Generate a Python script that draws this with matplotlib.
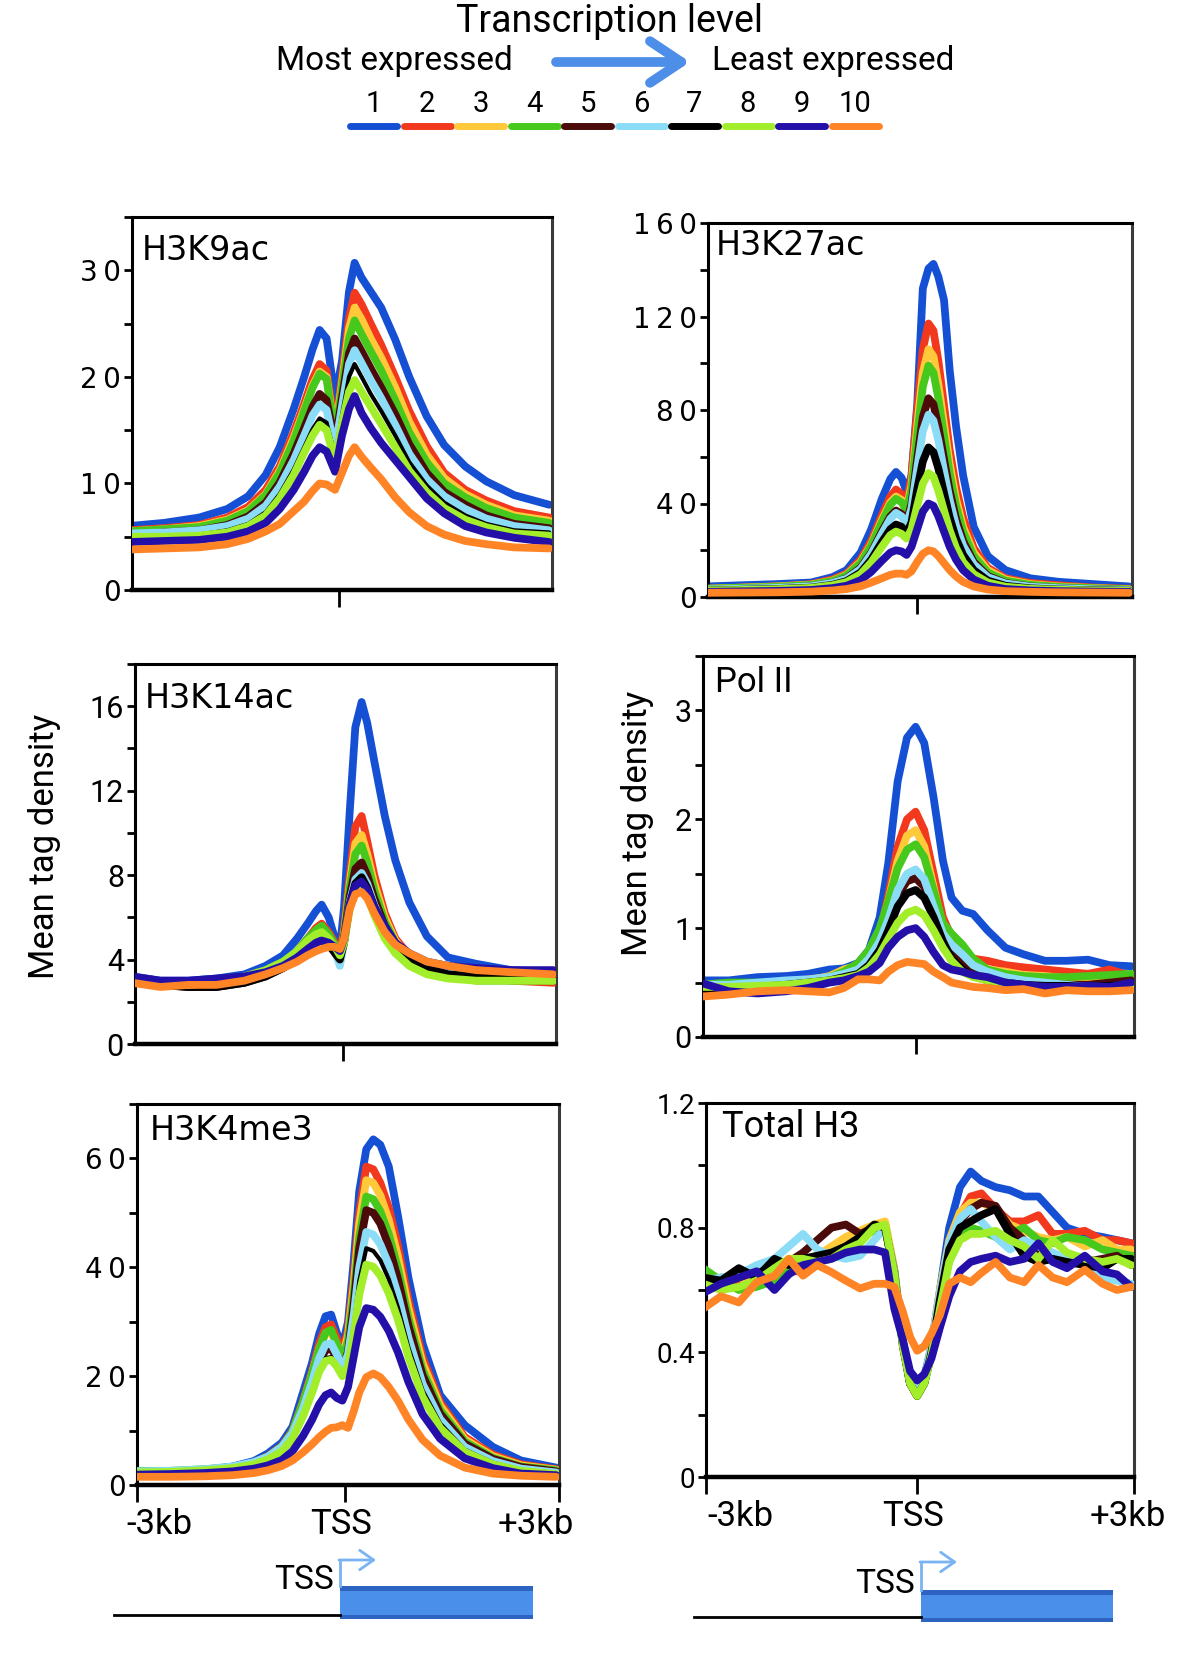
import matplotlib
matplotlib.use("Agg")
import matplotlib.pyplot as plt
from matplotlib import font_manager
from matplotlib.patches import Rectangle
from matplotlib.ticker import MultipleLocator, FuncFormatter

# ---------------- data ----------------
groups = ["1", "2", "3", "4", "5", "6", "7", "8", "9", "10"]
colors = ["#1550d4", "#f2391e", "#ffc93a", "#46c81c", "#4a0b0a",
          "#8bdcf6", "#000000", "#a3ee2a", "#2410a8", "#ff8426"]

# H3K9ac
k9_x = [-3000, -2500, -2000, -1600, -1300, -1050, -850, -650, -500, -380, -280, -180, -60,
        40, 140, 220, 320, 450, 600, 800, 1000, 1250, 1500, 1800, 2100, 2500, 3000]
k9_y = [
    [6.0, 6.3, 6.8, 7.6, 8.8, 10.8, 13.4, 17.0, 20.0, 22.6, 24.4, 23.6, 18.0, 21.5, 28.0, 30.7, 29.3, 28.0, 26.5, 23.5, 20.0, 16.3, 13.6, 11.6, 10.2, 8.9, 8.0],
    [5.6, 5.8, 6.1, 6.8, 7.8, 9.4, 11.6, 14.8, 17.5, 19.8, 21.2, 20.6, 15.0, 20.0, 25.5, 27.9, 26.8, 25.0, 23.0, 20.0, 16.8, 13.5, 11.0, 9.4, 8.4, 7.4, 6.8],
    [5.5, 5.7, 6.0, 6.6, 7.5, 9.0, 11.2, 14.3, 17.0, 19.2, 20.5, 20.0, 14.6, 19.4, 24.5, 26.5, 25.4, 23.6, 21.8, 19.0, 15.8, 12.7, 10.5, 9.0, 8.0, 7.0, 6.5],
    [5.5, 5.7, 5.9, 6.5, 7.4, 8.9, 11.0, 14.0, 16.8, 19.0, 20.3, 19.8, 14.3, 19.0, 23.6, 25.3, 24.0, 22.4, 20.6, 17.8, 14.8, 12.0, 10.0, 8.7, 7.7, 6.8, 6.3],
    [5.2, 5.4, 5.6, 6.1, 6.9, 8.2, 10.1, 12.8, 15.2, 17.2, 18.4, 17.8, 13.8, 18.0, 22.2, 23.6, 22.4, 20.8, 19.0, 16.5, 13.7, 11.0, 9.2, 8.0, 7.0, 6.2, 5.8],
    [5.3, 5.4, 5.6, 6.0, 6.7, 7.9, 9.7, 12.2, 14.5, 16.4, 17.4, 16.9, 13.2, 17.2, 21.2, 22.5, 21.3, 19.7, 18.0, 15.5, 12.8, 10.4, 8.8, 7.6, 6.7, 6.0, 5.6],
    [4.9, 5.0, 5.2, 5.6, 6.2, 7.3, 9.0, 11.3, 13.4, 15.1, 16.1, 15.7, 12.6, 16.4, 20.0, 21.2, 20.0, 18.4, 16.8, 14.5, 12.0, 9.8, 8.2, 7.0, 6.2, 5.6, 5.4],
    [5.0, 5.0, 5.1, 5.4, 6.0, 7.0, 8.6, 10.8, 12.9, 14.5, 15.5, 15.0, 12.0, 15.6, 18.6, 19.7, 18.6, 17.2, 15.6, 13.4, 11.2, 9.2, 7.7, 6.6, 5.9, 5.3, 5.1],
    [4.5, 4.6, 4.7, 5.0, 5.5, 6.3, 7.6, 9.4, 11.1, 12.6, 13.4, 13.0, 11.1, 14.5, 17.0, 18.2, 16.6, 15.2, 13.8, 12.2, 10.6, 8.6, 7.2, 6.0, 5.4, 4.9, 4.5],
    [3.8, 3.9, 4.0, 4.3, 4.8, 5.5, 6.2, 7.4, 8.3, 9.3, 10.0, 9.9, 9.4, 11.0, 12.6, 13.4, 12.5, 11.5, 10.4, 8.7, 7.3, 6.0, 5.2, 4.6, 4.3, 4.0, 3.9],
]

# H3K27ac
k27_x = [-3000, -2500, -2000, -1500, -1200, -1000, -800, -650, -500, -380, -300, -220, -150, -80,
         0, 80, 160, 230, 300, 380, 460, 550, 650, 800, 1000, 1250, 1600, 2000, 2500, 3000]
k27_y = [
    [4.5, 5.0, 5.5, 6.2, 8.5, 11.5, 19.0, 29.0, 42.0, 50.5, 53.5, 51.0, 45.0, 52.0, 82.0, 132.0, 140.5, 142.5, 137.0, 127.0, 97.0, 73.0, 52.0, 30.0, 17.5, 11.5, 8.0, 6.5, 5.5, 4.5],
    [3.5, 4.0, 4.5, 5.5, 7.5, 10.0, 16.0, 24.0, 35.0, 43.0, 46.0, 44.0, 40.0, 52.0, 80.0, 106.0, 117.0, 114.0, 101.0, 82.0, 63.0, 47.0, 34.0, 21.0, 12.5, 8.0, 6.0, 5.0, 4.0, 3.5],
    [3.5, 4.0, 4.5, 5.3, 7.0, 9.5, 15.0, 22.5, 33.0, 40.5, 43.0, 41.5, 38.0, 48.0, 73.0, 96.0, 106.0, 103.0, 91.0, 74.0, 57.0, 42.0, 30.0, 19.0, 11.5, 7.5, 5.5, 4.5, 3.8, 3.3],
    [3.5, 3.9, 4.3, 5.2, 6.8, 9.2, 14.5, 22.0, 32.0, 39.5, 42.0, 40.5, 37.0, 46.0, 69.0, 90.0, 99.0, 96.0, 85.0, 69.0, 53.0, 39.0, 28.0, 17.5, 10.5, 7.0, 5.2, 4.3, 3.7, 3.2],
    [3.0, 3.4, 3.8, 4.6, 6.0, 8.0, 12.5, 19.0, 28.0, 34.5, 37.0, 35.5, 32.0, 40.0, 59.0, 77.0, 85.0, 82.5, 73.0, 59.0, 45.5, 33.5, 24.0, 15.0, 9.0, 6.0, 4.5, 3.8, 3.3, 3.0],
    [3.2, 3.5, 3.9, 4.6, 6.0, 7.8, 12.0, 18.5, 27.0, 33.5, 36.0, 34.5, 31.0, 38.0, 55.0, 71.0, 78.0, 75.5, 67.0, 54.0, 41.5, 30.5, 22.0, 14.0, 8.5, 5.8, 4.4, 3.8, 3.3, 3.0],
    [2.8, 3.1, 3.4, 4.0, 5.2, 6.8, 10.5, 16.0, 23.5, 29.0, 31.0, 30.0, 27.0, 32.0, 46.0, 58.0, 64.0, 62.0, 55.0, 44.5, 34.0, 25.0, 18.0, 11.5, 7.0, 4.8, 3.7, 3.2, 2.9, 2.7],
    [2.8, 3.0, 3.3, 3.9, 5.0, 6.4, 9.8, 14.8, 21.5, 26.5, 28.0, 27.0, 25.0, 29.0, 39.0, 48.5, 53.0, 51.5, 45.5, 37.0, 28.5, 21.0, 15.0, 9.8, 6.2, 4.4, 3.5, 3.1, 2.8, 2.6],
    [2.2, 2.4, 2.6, 3.0, 3.8, 4.8, 7.2, 10.8, 15.5, 19.0, 20.0, 19.5, 18.0, 21.5, 29.0, 36.5, 40.0, 39.0, 34.5, 28.0, 21.5, 16.0, 11.5, 7.5, 4.8, 3.4, 2.8, 2.5, 2.3, 2.2],
    [1.8, 1.9, 2.0, 2.3, 2.8, 3.4, 4.6, 6.2, 8.0, 9.5, 10.0, 10.0, 9.5, 11.0, 15.0, 18.5, 20.0, 19.5, 17.5, 14.5, 11.5, 8.8, 6.5, 4.5, 3.2, 2.5, 2.2, 2.0, 1.9, 1.8],
]

# H3K14ac
k14_x = [-3000, -2600, -2200, -1800, -1400, -1100, -850, -650, -500, -380, -300, -200, -110, -40,
         20, 100, 180, 270, 350, 450, 600, 750, 950, 1200, 1500, 1900, 2400, 3000]
k14_y = [
    [3.2, 3.0, 3.0, 3.1, 3.3, 3.7, 4.2, 5.0, 5.7, 6.3, 6.6, 6.0, 5.0, 4.5, 6.5, 11.0, 15.0, 16.2, 15.2, 13.4, 10.8, 8.7, 6.7, 5.1, 4.1, 3.8, 3.5, 3.4],
    [3.0, 2.9, 2.8, 2.9, 3.1, 3.4, 3.8, 4.4, 5.0, 5.5, 5.7, 5.3, 4.8, 4.3, 5.5, 8.0, 10.3, 10.8, 9.6, 8.0, 6.2, 5.0, 4.2, 3.7, 3.5, 3.2, 3.0, 2.9],
    [3.0, 2.8, 2.8, 2.9, 3.1, 3.4, 3.8, 4.3, 4.9, 5.3, 5.4, 5.1, 4.6, 3.8, 5.2, 7.6, 9.5, 9.9, 9.0, 7.6, 6.0, 4.9, 4.1, 3.6, 3.4, 3.2, 3.1, 3.0],
    [3.0, 2.8, 2.8, 2.9, 3.1, 3.4, 3.8, 4.4, 5.0, 5.4, 5.6, 5.2, 4.7, 4.2, 5.2, 7.4, 9.0, 9.4, 8.6, 7.3, 5.8, 4.8, 4.0, 3.5, 3.2, 3.0, 3.0, 3.0],
    [3.0, 2.8, 2.7, 2.7, 2.9, 3.2, 3.6, 4.1, 4.6, 5.0, 5.1, 4.9, 4.5, 4.0, 5.0, 7.0, 8.3, 8.6, 8.0, 6.9, 5.6, 4.7, 4.0, 3.6, 3.3, 3.1, 3.1, 3.2],
    [3.0, 2.8, 2.8, 2.8, 3.0, 3.3, 3.7, 4.1, 4.6, 4.9, 5.0, 4.8, 4.4, 3.7, 4.8, 6.7, 7.8, 8.1, 7.6, 6.6, 5.4, 4.6, 4.0, 3.6, 3.4, 3.2, 3.1, 3.1],
    [3.0, 2.8, 2.7, 2.7, 2.9, 3.2, 3.6, 4.0, 4.5, 4.8, 4.9, 4.7, 4.3, 4.0, 4.8, 6.6, 7.6, 7.9, 7.4, 6.5, 5.4, 4.6, 4.0, 3.6, 3.3, 3.2, 3.2, 3.2],
    [3.0, 2.8, 2.8, 2.9, 3.2, 3.5, 3.9, 4.4, 4.9, 5.2, 5.3, 5.0, 4.6, 4.2, 4.8, 6.4, 7.3, 7.5, 7.0, 6.1, 5.0, 4.3, 3.7, 3.3, 3.1, 3.0, 3.0, 3.0],
    [3.2, 3.0, 3.0, 3.1, 3.2, 3.4, 3.7, 4.1, 4.5, 4.8, 4.9, 4.8, 4.6, 4.4, 5.0, 6.6, 7.5, 7.7, 7.3, 6.5, 5.6, 4.8, 4.3, 3.9, 3.7, 3.6, 3.5, 3.5],
    [2.9, 2.7, 2.8, 2.8, 3.0, 3.3, 3.6, 3.9, 4.2, 4.4, 4.5, 4.6, 4.6, 4.5, 5.0, 6.4, 7.1, 7.2, 6.9, 6.2, 5.3, 4.7, 4.3, 3.9, 3.7, 3.5, 3.4, 3.3],
]

# Pol II
pol_x = [-3000, -2600, -2200, -1800, -1500, -1200, -1000, -800, -650, -500, -380, -250, -120,
         0, 120, 250, 380, 500, 650, 800, 1000, 1250, 1500, 1800, 2100, 2400, 2700, 3000]
pol_y = [
    [0.52, 0.52, 0.55, 0.56, 0.58, 0.62, 0.63, 0.68, 0.80, 1.10, 1.60, 2.35, 2.75, 2.85, 2.70, 2.20, 1.62, 1.28, 1.16, 1.13, 0.98, 0.82, 0.76, 0.70, 0.70, 0.71, 0.66, 0.65],
    [0.45, 0.47, 0.48, 0.50, 0.53, 0.55, 0.57, 0.62, 0.72, 0.95, 1.30, 1.75, 2.00, 2.07, 1.90, 1.50, 1.10, 0.92, 0.80, 0.72, 0.70, 0.66, 0.64, 0.62, 0.60, 0.58, 0.62, 0.56],
    [0.47, 0.47, 0.49, 0.50, 0.52, 0.56, 0.62, 0.66, 0.75, 0.95, 1.25, 1.62, 1.85, 1.90, 1.75, 1.38, 1.00, 0.82, 0.72, 0.66, 0.62, 0.60, 0.57, 0.56, 0.54, 0.52, 0.50, 0.52],
    [0.48, 0.50, 0.50, 0.50, 0.52, 0.55, 0.60, 0.68, 0.80, 1.00, 1.25, 1.55, 1.72, 1.77, 1.65, 1.35, 1.05, 0.95, 0.85, 0.72, 0.62, 0.58, 0.56, 0.55, 0.55, 0.56, 0.57, 0.58],
    [0.42, 0.44, 0.45, 0.47, 0.50, 0.52, 0.55, 0.60, 0.70, 0.85, 1.05, 1.30, 1.43, 1.46, 1.38, 1.15, 0.92, 0.78, 0.68, 0.60, 0.56, 0.52, 0.50, 0.49, 0.48, 0.48, 0.50, 0.52],
    [0.48, 0.48, 0.50, 0.52, 0.53, 0.55, 0.58, 0.62, 0.72, 0.88, 1.08, 1.35, 1.50, 1.54, 1.45, 1.20, 0.95, 0.85, 0.76, 0.66, 0.60, 0.55, 0.52, 0.50, 0.48, 0.46, 0.45, 0.46],
    [0.45, 0.45, 0.46, 0.48, 0.50, 0.52, 0.55, 0.58, 0.66, 0.80, 0.98, 1.20, 1.32, 1.35, 1.28, 1.10, 0.88, 0.72, 0.62, 0.56, 0.52, 0.50, 0.48, 0.47, 0.47, 0.46, 0.47, 0.48],
    [0.46, 0.46, 0.47, 0.48, 0.50, 0.52, 0.54, 0.57, 0.64, 0.76, 0.90, 1.05, 1.14, 1.17, 1.12, 0.98, 0.82, 0.70, 0.60, 0.55, 0.52, 0.50, 0.47, 0.45, 0.45, 0.44, 0.42, 0.45],
    [0.50, 0.42, 0.40, 0.42, 0.45, 0.50, 0.52, 0.56, 0.60, 0.68, 0.82, 0.92, 0.98, 1.00, 0.92, 0.78, 0.66, 0.62, 0.60, 0.57, 0.55, 0.50, 0.48, 0.46, 0.46, 0.47, 0.46, 0.50],
    [0.37, 0.39, 0.42, 0.43, 0.42, 0.41, 0.45, 0.53, 0.53, 0.52, 0.60, 0.66, 0.69, 0.68, 0.67, 0.60, 0.55, 0.50, 0.48, 0.46, 0.45, 0.43, 0.44, 0.40, 0.43, 0.42, 0.42, 0.43],
]

# H3K4me3
k4_x = [-3000, -2500, -2000, -1600, -1300, -1100, -900, -750, -600, -470, -370, -280, -200, -120, -40,
        40, 120, 200, 300, 400, 500, 620, 750, 900, 1100, 1350, 1700, 2100, 2500, 3000]
k4_y = [
    [2.2, 2.4, 2.8, 3.4, 4.4, 5.8, 7.8, 10.7, 17.0, 22.5, 27.8, 31.0, 31.3, 28.0, 25.5, 30.0, 41.0, 54.0, 61.7, 63.5, 62.5, 58.5, 49.5, 38.0, 26.0, 16.5, 11.0, 7.0, 4.5, 3.2],
    [2.0, 2.3, 2.7, 3.2, 4.1, 5.3, 7.2, 10.0, 15.5, 21.0, 26.0, 29.0, 29.5, 27.0, 24.5, 28.5, 38.0, 50.0, 58.5, 58.0, 55.5, 51.0, 44.0, 34.0, 23.5, 15.2, 8.8, 5.6, 3.8, 2.9],
    [2.0, 2.3, 2.7, 3.1, 4.0, 5.1, 7.0, 9.7, 15.0, 20.5, 25.0, 27.8, 28.0, 25.8, 23.5, 27.5, 36.5, 48.0, 56.0, 55.5, 53.2, 48.7, 42.0, 32.5, 22.4, 14.6, 8.4, 5.3, 3.6, 2.8],
    [2.6, 2.6, 2.9, 3.3, 4.1, 5.2, 7.1, 9.8, 15.2, 20.5, 25.0, 28.0, 28.5, 26.0, 23.0, 26.5, 35.0, 45.5, 53.0, 52.5, 50.3, 46.1, 39.8, 30.7, 21.2, 13.8, 8.0, 5.0, 3.4, 2.7],
    [2.0, 2.2, 2.5, 2.9, 3.7, 4.7, 6.4, 8.8, 13.5, 18.3, 22.3, 24.8, 25.0, 23.5, 21.0, 24.5, 33.0, 43.5, 50.5, 50.0, 48.0, 43.9, 37.9, 29.3, 20.2, 13.1, 7.6, 4.8, 3.3, 2.5],
    [2.5, 2.6, 2.9, 3.4, 4.2, 5.2, 7.0, 9.5, 14.0, 19.0, 23.3, 25.8, 26.0, 24.0, 21.5, 24.0, 31.0, 40.0, 46.5, 46.0, 44.2, 40.5, 34.9, 27.0, 18.6, 12.1, 7.0, 4.4, 3.0, 2.3],
    [2.0, 2.2, 2.5, 2.9, 3.6, 4.5, 6.0, 8.3, 12.5, 17.0, 21.0, 23.3, 23.5, 22.0, 19.8, 22.5, 29.0, 37.5, 43.5, 43.0, 41.3, 37.8, 32.6, 25.2, 17.4, 11.3, 6.5, 4.1, 2.8, 2.2],
    [2.3, 2.4, 2.7, 3.1, 3.8, 4.7, 6.2, 8.5, 12.6, 17.0, 20.8, 22.8, 23.0, 21.8, 20.0, 22.0, 27.5, 35.0, 40.5, 40.1, 38.5, 35.2, 30.4, 23.5, 16.2, 10.5, 6.1, 3.8, 2.6, 2.0],
    [1.9, 2.0, 2.2, 2.5, 3.0, 3.6, 4.6, 6.2, 9.0, 12.0, 14.8, 16.5, 17.0, 16.0, 15.5, 18.0, 23.5, 29.0, 32.5, 32.2, 30.9, 28.3, 24.4, 18.9, 13.0, 8.5, 4.9, 3.1, 2.1, 1.8],
    [1.5, 1.5, 1.6, 1.8, 2.2, 2.7, 3.5, 4.5, 6.0, 7.5, 8.8, 9.8, 10.5, 10.6, 11.0, 10.5, 13.5, 17.0, 19.8, 20.5, 19.8, 18.0, 15.5, 12.0, 8.3, 5.4, 3.2, 2.1, 1.7, 1.5],
]

# Total H3
h3_x = [-3000, -2750, -2500, -2250, -2000, -1800, -1600, -1400, -1200, -1000, -800, -600, -450, -320,
        -200, -100, 0, 100, 200, 320, 450, 600, 750, 900, 1100, 1300, 1500, 1700, 1900, 2100,
        2350, 2600, 2800, 3000]
h3_y = [
    [0.62, 0.64, 0.63, 0.66, 0.64, 0.68, 0.67, 0.70, 0.72, 0.74, 0.76, 0.80, 0.81, 0.66, 0.43, 0.30, 0.28, 0.32, 0.42, 0.60, 0.80, 0.93, 0.98, 0.95, 0.93, 0.92, 0.90, 0.90, 0.85, 0.80, 0.78, 0.77, 0.76, 0.75],
    [0.60, 0.62, 0.63, 0.64, 0.65, 0.66, 0.66, 0.70, 0.72, 0.75, 0.77, 0.80, 0.81, 0.66, 0.43, 0.30, 0.26, 0.30, 0.40, 0.56, 0.72, 0.84, 0.90, 0.91, 0.86, 0.82, 0.82, 0.84, 0.78, 0.78, 0.79, 0.76, 0.76, 0.75],
    [0.61, 0.62, 0.64, 0.63, 0.66, 0.68, 0.69, 0.71, 0.74, 0.77, 0.79, 0.81, 0.82, 0.67, 0.44, 0.31, 0.27, 0.31, 0.42, 0.60, 0.76, 0.85, 0.88, 0.88, 0.86, 0.81, 0.79, 0.77, 0.76, 0.77, 0.74, 0.76, 0.73, 0.73],
    [0.67, 0.63, 0.60, 0.61, 0.63, 0.66, 0.68, 0.70, 0.72, 0.74, 0.77, 0.79, 0.80, 0.65, 0.42, 0.30, 0.26, 0.30, 0.39, 0.55, 0.70, 0.77, 0.80, 0.79, 0.77, 0.78, 0.80, 0.76, 0.75, 0.77, 0.76, 0.73, 0.72, 0.71],
    [0.60, 0.62, 0.64, 0.66, 0.67, 0.69, 0.72, 0.76, 0.80, 0.81, 0.78, 0.80, 0.80, 0.66, 0.43, 0.30, 0.27, 0.31, 0.41, 0.57, 0.73, 0.82, 0.86, 0.88, 0.87, 0.80, 0.76, 0.71, 0.70, 0.70, 0.69, 0.70, 0.71, 0.68],
    [0.63, 0.64, 0.65, 0.68, 0.70, 0.74, 0.78, 0.73, 0.71, 0.70, 0.71, 0.76, 0.80, 0.66, 0.43, 0.31, 0.27, 0.31, 0.42, 0.59, 0.75, 0.83, 0.86, 0.82, 0.77, 0.73, 0.76, 0.74, 0.72, 0.70, 0.68, 0.64, 0.63, 0.62],
    [0.64, 0.63, 0.67, 0.64, 0.70, 0.68, 0.70, 0.71, 0.72, 0.74, 0.77, 0.81, 0.80, 0.65, 0.42, 0.30, 0.26, 0.30, 0.40, 0.57, 0.73, 0.80, 0.82, 0.84, 0.86, 0.78, 0.71, 0.69, 0.70, 0.69, 0.68, 0.67, 0.70, 0.70],
    [0.62, 0.60, 0.61, 0.63, 0.67, 0.70, 0.70, 0.69, 0.70, 0.73, 0.75, 0.80, 0.81, 0.65, 0.42, 0.30, 0.26, 0.30, 0.39, 0.54, 0.69, 0.76, 0.78, 0.78, 0.79, 0.76, 0.74, 0.70, 0.76, 0.72, 0.70, 0.69, 0.70, 0.68],
    [0.59, 0.62, 0.64, 0.66, 0.60, 0.65, 0.68, 0.69, 0.70, 0.72, 0.73, 0.73, 0.72, 0.54, 0.44, 0.34, 0.31, 0.33, 0.38, 0.48, 0.58, 0.66, 0.69, 0.70, 0.71, 0.69, 0.70, 0.75, 0.69, 0.67, 0.71, 0.66, 0.65, 0.61],
    [0.54, 0.58, 0.56, 0.625, 0.645, 0.70, 0.646, 0.68, 0.657, 0.63, 0.605, 0.62, 0.62, 0.61, 0.53, 0.45, 0.405, 0.42, 0.46, 0.52, 0.62, 0.64, 0.625, 0.655, 0.69, 0.64, 0.625, 0.68, 0.64, 0.625, 0.665, 0.62, 0.60, 0.61],
]

xtick_labels = ["-3kb", "TSS", "+3kb"]


# ---------------- fonts ----------------
def has_font(name):
    try:
        font_manager.findfont(name, fallback_to_default=False)
        return True
    except ValueError:
        return False


NARROW = next((f for f in ["Liberation Sans Narrow", "Roboto", "Open Sans"] if has_font(f)), "DejaVu Sans")
WIDE = "DejaVu Sans"

W, H = 1200, 1653
fig = plt.figure(figsize=(W / 100, H / 100), dpi=100)

# background layer in pixel coordinates for header, tick words and gene sketches
bg = fig.add_axes([0, 0, 1, 1])
bg.set_xlim(0, W)
bg.set_ylim(H, 0)
bg.axis("off")

XL = (-2960, 3040)


def px_box(l, t, r, b):
    return [l / W, 1 - b / H, (r - l) / W, (b - t) / H]


def spaced(v, p):
    # wide-tracked digits like the original axis labels
    return "\u2009".join("%g" % v)


def panel(box, x, ys, ytop, major, minor, name, name_xy, tick_font, tick_size,
          name_font, name_size, bottom=False, thin_black=False, fmt=None):
    ax = fig.add_axes(px_box(*box))
    for i, (y, c) in enumerate(zip(ys, colors)):
        lw = 5.6
        if thin_black and i == 6:
            lw = 3.0
        ax.plot(x, y, color=c, lw=lw, solid_joinstyle="round", solid_capstyle="round", zorder=2 + i)
    ax.set_xlim(*XL)
    ax.set_ylim(0, ytop)
    ax.yaxis.set_major_locator(MultipleLocator(major))
    ax.yaxis.set_minor_locator(MultipleLocator(minor))
    ax.yaxis.set_major_formatter(FuncFormatter(fmt if fmt else (lambda v, p: "%g" % v)))
    ax.tick_params(axis="y", which="both", direction="out", length=6, width=2, pad=2,
                   labelsize=tick_size, colors="black")
    for lab in ax.get_yticklabels():
        lab.set_family(tick_font)
    if bottom:
        ax.set_xticks([XL[0], 0, XL[1]])
    else:
        ax.set_xticks([0])
    ax.set_xticklabels([""] * len(ax.get_xticks()))
    ax.tick_params(axis="x", direction="out", length=12, width=2, pad=5)
    for s in ["left", "top"]:
        ax.spines[s].set_linewidth(2.2)
    ax.spines["right"].set_linewidth(2.2)
    ax.spines["right"].set_color("#3a3a3a")
    ax.spines["bottom"].set_linewidth(3.2)
    ax.text(name_xy[0], name_xy[1], name, transform=ax.transAxes, family=name_font,
            fontsize=name_size, ha="left", va="baseline", zorder=20)
    return ax


panel((132, 217, 552, 590), k9_x, k9_y, 35, 10, 5, "H3K9ac", (0.023, 0.885),
      WIDE, 20, WIDE, 24, thin_black=True, fmt=spaced)
panel((708, 223, 1132, 597), k27_x, k27_y, 160, 40, 20, "H3K27ac", (0.019, 0.914),
      WIDE, 20, WIDE, 24, fmt=spaced)
a3 = panel((135, 664, 556, 1044), k14_x, k14_y, 18, 4, 2, "H3K14ac", (0.024, 0.884),
           NARROW, 22, WIDE, 24)
a4 = panel((703, 656, 1134, 1037), pol_x, pol_y, 3.5, 1, 0.5, "Pol II", (0.028, 0.906),
           NARROW, 22, NARROW, 25)
panel((137, 1104, 559, 1485), k4_x, k4_y, 70, 20, 10, "H3K4me3", (0.031, 0.906),
      WIDE, 20, WIDE, 24, bottom=True, thin_black=True, fmt=spaced)
panel((706, 1103, 1134, 1477), h3_x, h3_y, 1.2, 0.4, 0.2, "Total H3", (0.037, 0.909),
      NARROW, 20, NARROW, 26, bottom=True,
      fmt=lambda v, p: "0" if abs(v) < 1e-9 else "%.1f" % v)

a3.text(-0.216, 0.52, "Mean tag density", transform=a3.transAxes, rotation=90,
        ha="center", va="center", family=NARROW, fontsize=25)
a4.text(-0.151, 0.56, "Mean tag density", transform=a4.transAxes, rotation=90,
        ha="center", va="center", family=NARROW, fontsize=25)

# x tick words under the bottom panels
for lab, xc in zip(xtick_labels, [159, 341, 536]):
    bg.text(xc, 1524, lab, ha="center", va="center", family=NARROW, fontsize=25)
for lab, xc in zip(xtick_labels, [740, 913, 1128]):
    bg.text(xc, 1516, lab, ha="center", va="center", family=NARROW, fontsize=25)

# ---------------- header ----------------
bg.text(610, 22, "Transcription level", ha="center", va="center", family=NARROW, fontsize=27)
bg.text(394, 61, "Most expressed", ha="center", va="center", family=NARROW, fontsize=24)
bg.text(833, 61, "Least expressed", ha="center", va="center", family=NARROW, fontsize=24)
bg.annotate("", xy=(690, 62), xytext=(556, 62),
            arrowprops=dict(arrowstyle="->,head_length=0.45,head_width=0.3", lw=7,
                            color="#4d8fe8", mutation_scale=50, shrinkA=0, shrinkB=0))
for i, (g, c) in enumerate(zip(groups, colors)):
    x0 = 350 + i * 53.5
    bg.plot([x0, x0 + 47], [125.5, 125.5], color=c, lw=5, solid_capstyle="round")
    bg.text(x0 + 23.5, 104, g, ha="center", va="center", family=NARROW, fontsize=21)


# ---------------- gene sketches ----------------
def gene(x_start, x_tss, x_end, y_top, y_bot, y_line, y_arrow, arrow_end):
    bg.plot([x_start, x_tss], [y_line, y_line], color="black", lw=2)
    bg.add_patch(Rectangle((x_tss, y_top), x_end - x_tss, y_bot - y_top,
                           facecolor="#2d64c2", edgecolor="none"))
    bg.add_patch(Rectangle((x_tss, y_top + 5), x_end - x_tss, y_bot - y_top - 9,
                           facecolor="#4a90ea", edgecolor="none"))
    bg.plot([x_tss, x_tss], [y_top, y_arrow], color="#7ab3f2", lw=2)
    bg.annotate("", xy=(arrow_end, y_arrow), xytext=(x_tss - 1, y_arrow),
                arrowprops=dict(arrowstyle="->,head_length=0.5,head_width=0.35", lw=2,
                                color="#7ab3f2", mutation_scale=20, shrinkA=0, shrinkB=0))
    bg.text(x_tss - 6, y_top - 6, "TSS", ha="right", va="center", family=NARROW, fontsize=24)


gene(114, 340, 533, 1586, 1619, 1615, 1560, 376)
gene(694, 921, 1113, 1590, 1622, 1617, 1562, 957)

fig.savefig("out.png", dpi=100)
